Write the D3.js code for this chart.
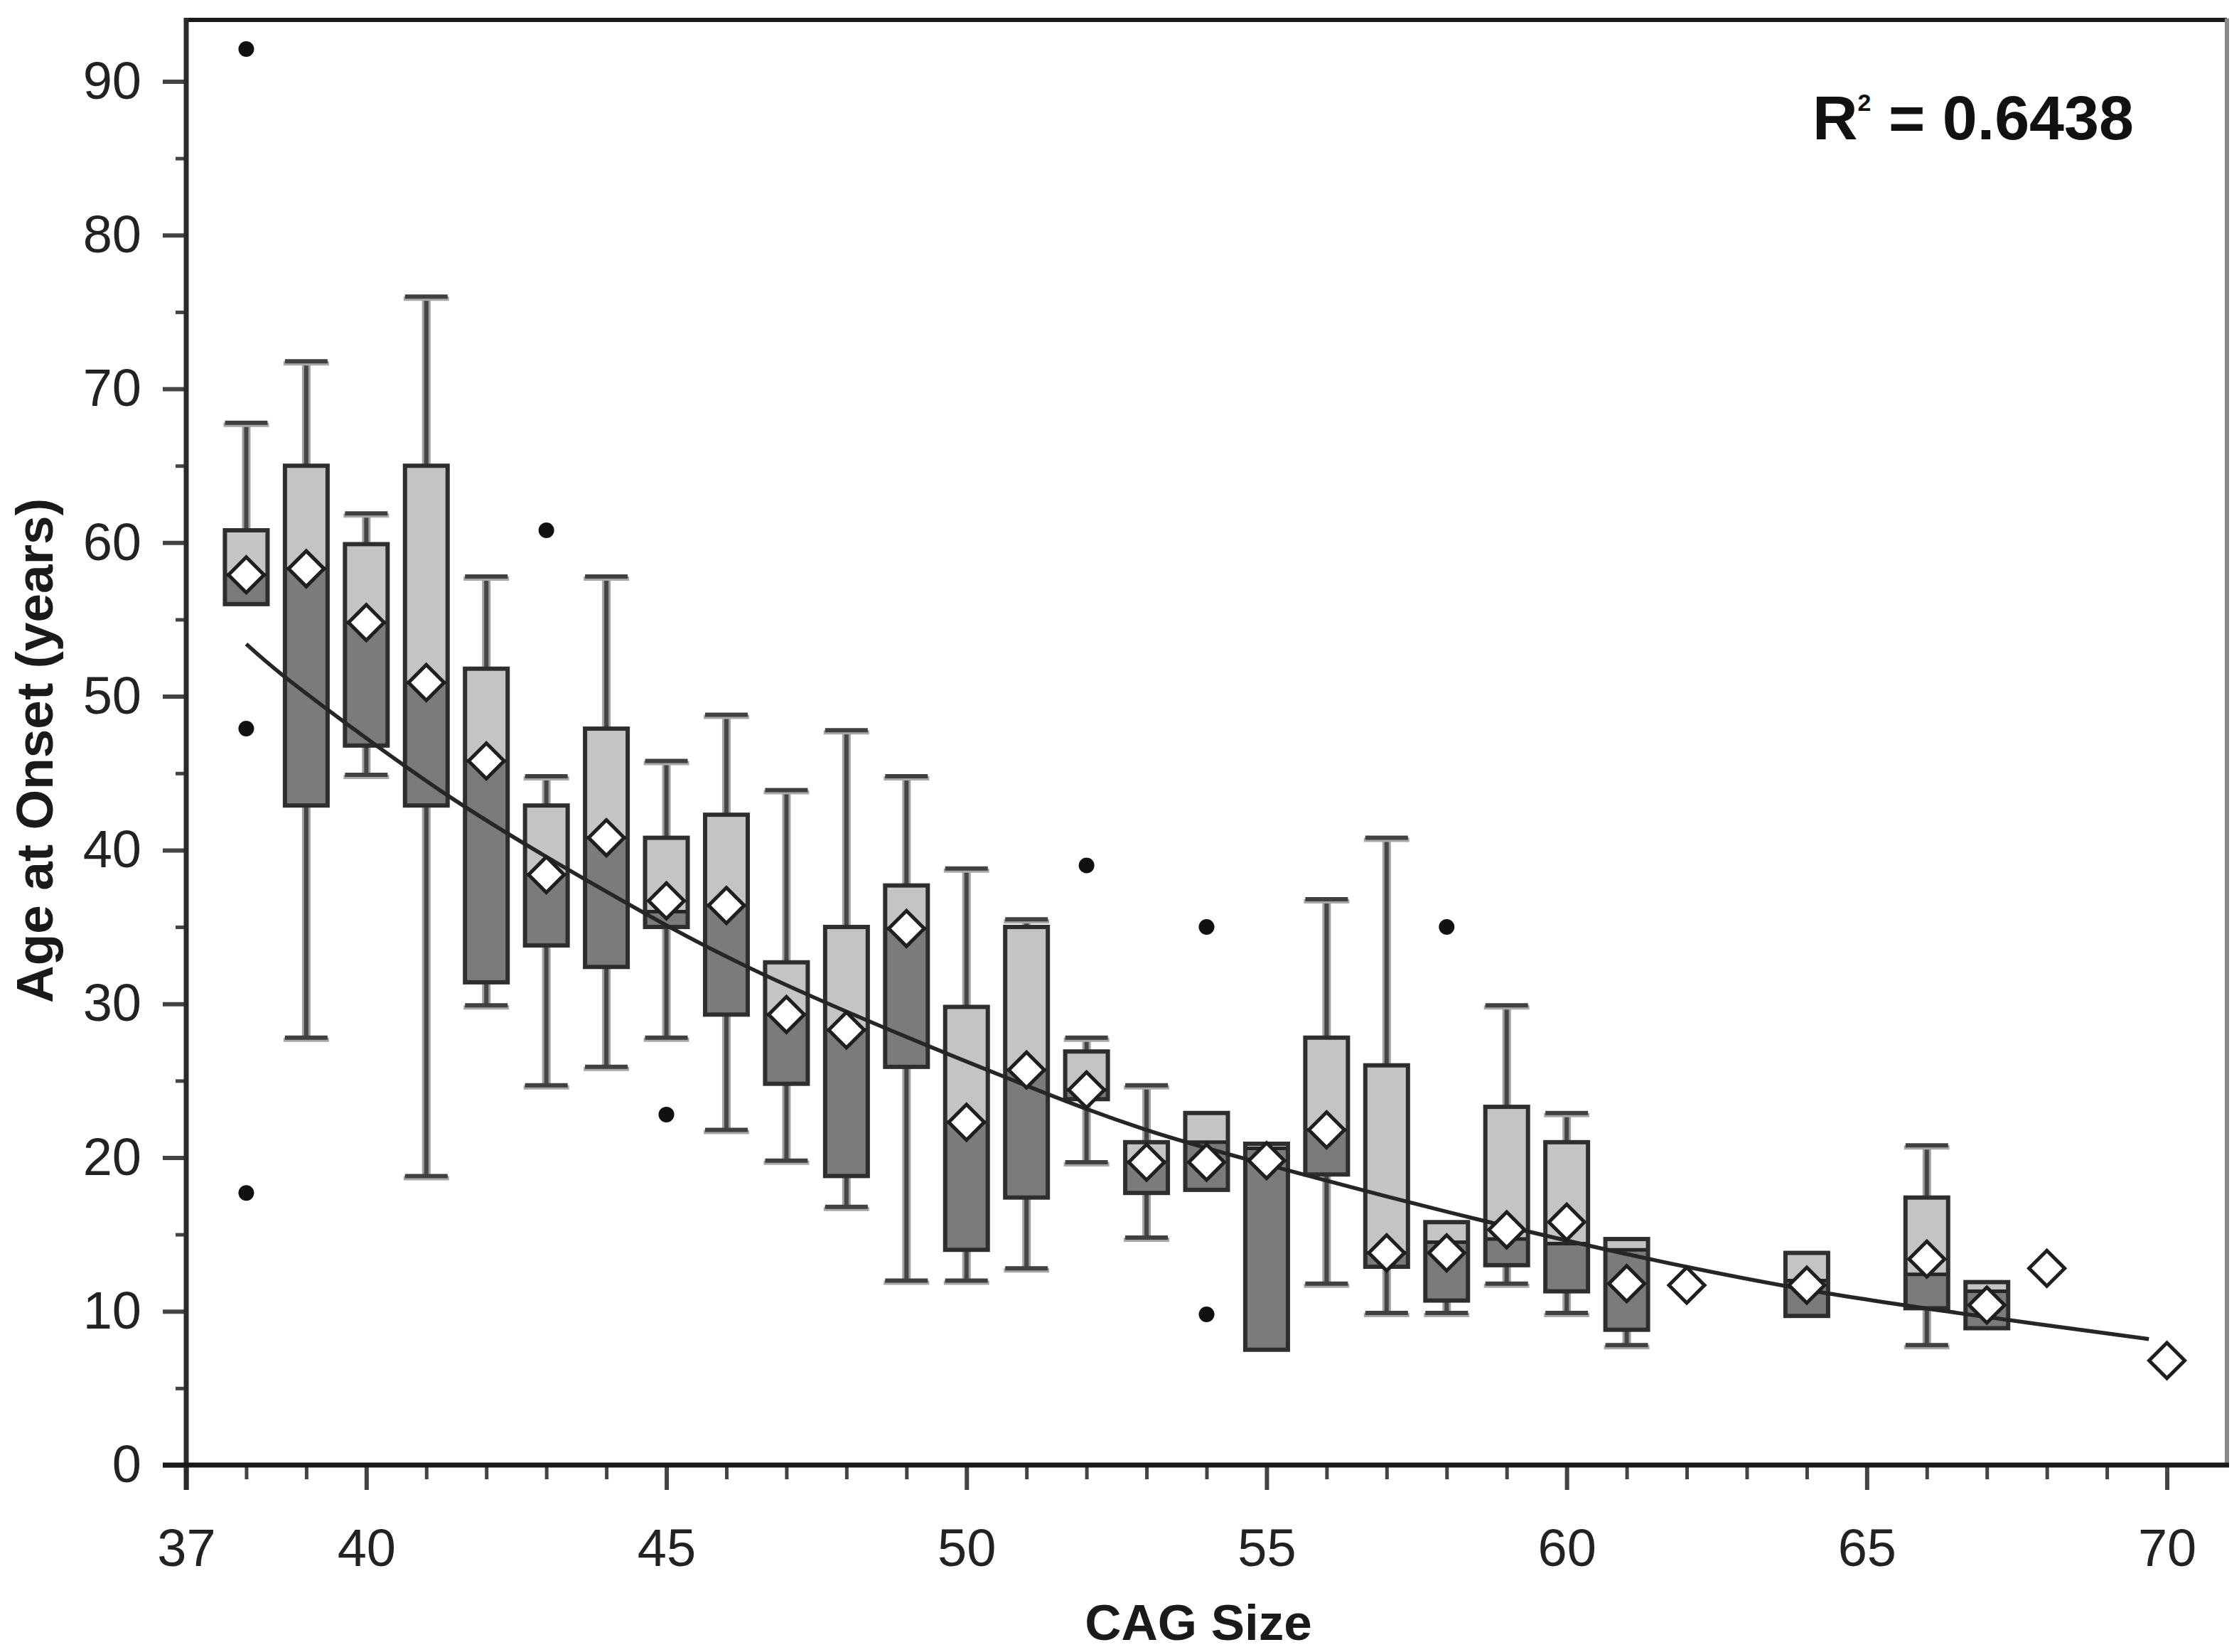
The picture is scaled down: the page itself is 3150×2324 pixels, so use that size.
<!DOCTYPE html>
<html lang="en">
<head>
<meta charset="UTF-8">
<title>Age at Onset vs CAG Size</title>
<script src="https://d3js.org/d3.v7.min.js"></script>
<style>
    body { margin: 0; background: #fff; }
    svg { display: block; font-family: "Liberation Sans", Arial, sans-serif; }
    .tick text { fill: #222; }
</style>
</head>
<body>
<svg id="chart" width="3150" height="2324"></svg>
<script>
    // values
    const cag        = [38, 39, 40, 41, 42, 43, 44, 45, 46, 47, 48, 49, 50, 51, 52, 53, 54, 55, 56, 57, 58, 59, 60, 61, 62, 64, 66, 67, 68, 70];
    const q1         = [56.0, 42.9, 46.8, 42.9, 31.4, 33.8, 32.4, 35.0, 29.3, 24.8, 18.8, 25.9, 14.0, 17.4, 23.8, 17.7, 17.9, 7.5, 18.9, 12.9, 10.7, 13.0, 11.3, 8.8, null, 9.7, 10.2, 8.9, null, null];
    const q3         = [60.8, 65.0, 59.9, 65.0, 51.8, 42.9, 47.9, 40.8, 42.3, 32.7, 35.0, 37.7, 29.8, 35.0, 26.9, 21.0, 22.9, 20.9, 27.8, 26.0, 15.8, 23.3, 21.0, 14.7, null, 13.8, 17.4, 11.9, null, null];
    const median     = [57.9, 58.3, 54.8, 50.9, 45.8, 38.4, 40.8, 36.0, 36.4, 29.3, 28.3, 34.9, 22.3, 25.7, 24.4, 19.7, 21.0, 20.6, 21.8, 13.8, 14.5, 14.7, 14.4, 14.0, null, 12.0, 12.4, 11.3, null, null];
    const mean       = [57.9, 58.3, 54.8, 50.9, 45.8, 38.4, 40.8, 36.7, 36.4, 29.3, 28.3, 34.9, 22.3, 25.7, 24.4, 19.7, 19.7, 19.8, 21.8, 13.8, 13.8, 15.3, 15.8, 11.8, 11.7, 11.7, 13.4, 10.4, 12.8, 6.8];
    const whiskerLow = [null, 27.8, 44.9, 18.8, 29.9, 24.7, 25.9, 27.8, 21.8, 19.8, 16.8, 12.0, 12.0, 12.8, 19.7, 14.8, null, null, 11.8, 9.9, 9.9, 11.8, 9.9, 7.8, null, null, 7.8, null, null, null];
    const whiskerHigh= [67.8, 71.8, 61.9, 76.0, 57.8, 44.8, 57.8, 45.8, 48.8, 43.9, 47.8, 44.8, 38.8, 35.5, 27.8, 24.7, null, null, 36.8, 40.8, null, 29.9, 22.9, null, null, null, 20.8, null, null, null];

    const outlierX = [38, 38, 38, 43, 45, 52, 54, 54, 58];
    const outlierY = [92.1, 47.9, 17.7, 60.8, 22.8, 39.0, 35.0, 9.8, 35.0];

    // fitted curve, points
    const fitX = [38, 38.6, 41.3, 43.6, 46.3, 50.6, 53, 56, 58.5, 61.5, 64, 66.5, 69.7];
    const fitY = [53.4, 51.4, 43.7, 38.2, 32.5, 25.3, 21.8, 18.5, 16.0, 13.3, 11.4, 9.9, 8.2];

    const yMajor = [0, 10, 20, 30, 40, 50, 60, 70, 80, 90];
    const yMinor = [5, 15, 25, 35, 45, 55, 65, 75, 85];
    const xMajor = [37, 40, 45, 50, 55, 60, 65, 70];
    const xMinor = d3.range(38, 71).filter(v => !xMajor.includes(v));

    const rSquared = "0.6438";

    const padL = 262, padT = 28, padR = 3133, padB = 2061;
    const svg = d3.select("#chart");

    const x = d3.scaleLinear().domain([37, 71]).range([padL, padR]);
    const y = d3.scaleLinear().domain([0, 94]).range([padB, padT]);

    const boxW = 60;
    const light = "#c4c4c4", dark = "#7b7b7b", edge = "#2e2e2e";

    const rows = cag.map((c, i) => ({
        c, q1: q1[i], q3: q3[i], med: median[i], mean: mean[i],
        lo: whiskerLow[i], hi: whiskerHigh[i]
    }));

    // whiskers
    function whisker(g, d, from, to) {
        if (to == null) return;
        g.append("line")
            .attr("x1", x(d.c)).attr("x2", x(d.c))
            .attr("y1", y(from)).attr("y2", y(to))
            .attr("stroke", "#a0a0a0").attr("stroke-width", 12);
        g.append("line")
            .attr("x1", x(d.c)).attr("x2", x(d.c))
            .attr("y1", y(from)).attr("y2", y(to))
            .attr("stroke", "#464646").attr("stroke-width", 6);
        g.append("line")
            .attr("x1", x(d.c) - boxW / 2 - 2).attr("x2", x(d.c) + boxW / 2 + 2)
            .attr("y1", y(to) + 3).attr("y2", y(to) + 3)
            .attr("stroke", "#a8a8a8").attr("stroke-width", 6);
        g.append("line")
            .attr("x1", x(d.c) - boxW / 2).attr("x2", x(d.c) + boxW / 2)
            .attr("y1", y(to)).attr("y2", y(to))
            .attr("stroke", "#404040").attr("stroke-width", 6);
    }

    const boxes = svg.append("g");
    rows.forEach(d => {
        const g = boxes.append("g");
        if (d.q1 != null) {
            whisker(g, d, d.q3, d.hi);
            whisker(g, d, d.q1, d.lo);
            g.append("rect")
                .attr("x", x(d.c) - boxW / 2).attr("width", boxW)
                .attr("y", y(d.q3)).attr("height", y(d.med) - y(d.q3))
                .attr("fill", light);
            g.append("rect")
                .attr("x", x(d.c) - boxW / 2).attr("width", boxW)
                .attr("y", y(d.med)).attr("height", y(d.q1) - y(d.med))
                .attr("fill", dark);
            g.append("line")
                .attr("x1", x(d.c) - boxW / 2).attr("x2", x(d.c) + boxW / 2)
                .attr("y1", y(d.med)).attr("y2", y(d.med))
                .attr("stroke", "#262626").attr("stroke-width", 5);
            g.append("rect")
                .attr("x", x(d.c) - boxW / 2).attr("width", boxW)
                .attr("y", y(d.q3)).attr("height", y(d.q1) - y(d.q3))
                .attr("fill", "none").attr("stroke", edge).attr("stroke-width", 6);
        }
    });

    // fit line
    svg.append("path")
        .datum(fitX.map((v, i) => [v, fitY[i]]))
        .attr("fill", "none")
        .attr("stroke", "#262626")
        .attr("stroke-width", 5.5)
        .attr("d", d3.line().x(d => x(d[0])).y(d => y(d[1])).curve(d3.curveCatmullRom));

    // mean diamonds
    const dsz = 25;
    svg.append("g").selectAll("path")
        .data(rows)
        .join("path")
        .attr("d", d => {
            const cx = x(d.c), cy = y(d.mean);
            return `M${cx},${cy - dsz}L${cx + dsz},${cy}L${cx},${cy + dsz}L${cx - dsz},${cy}Z`;
        })
        .attr("fill", "#fff")
        .attr("stroke", "#1e1e1e")
        .attr("stroke-width", 5);

    // outliers
    svg.append("g").selectAll("circle")
        .data(outlierX.map((v, i) => [v, outlierY[i]]))
        .join("circle")
        .attr("cx", d => x(d[0]))
        .attr("cy", d => y(d[1]))
        .attr("r", 11)
        .attr("fill", "#111");

    // frame
    svg.append("line")
        .attr("x1", padL).attr("x2", padR).attr("y1", padT).attr("y2", padT)
        .attr("stroke", "#1a1a1a").attr("stroke-width", 6);
    svg.append("line")
        .attr("x1", padR).attr("x2", padR).attr("y1", padT - 2).attr("y2", padB)
        .attr("stroke", "#8a8a8a").attr("stroke-width", 6);

    // y axis
    const yAxis = svg.append("g")
        .attr("transform", `translate(${padL},0)`)
        .call(d3.axisLeft(y).tickValues(yMajor).tickSize(33).tickPadding(30).tickSizeOuter(0))
        .call(g => g.select(".domain").remove());
    yAxis.selectAll(".tick line").attr("stroke", "#444").attr("stroke-width", 6);
    yAxis.selectAll(".tick text").attr("font-size", 74);
    svg.append("g")
        .attr("transform", `translate(${padL},0)`)
        .call(d3.axisLeft(y).tickValues(yMinor).tickSize(15).tickFormat(""))
        .call(g => g.select(".domain").remove())
        .selectAll(".tick line").attr("stroke", "#444").attr("stroke-width", 5);

    // x axis
    const xAxis = svg.append("g")
        .attr("transform", `translate(0,${padB})`)
        .call(d3.axisBottom(x).tickValues(xMajor).tickSize(35).tickPadding(54).tickSizeOuter(0))
        .call(g => g.select(".domain").remove());
    xAxis.selectAll(".tick line").attr("stroke", "#444").attr("stroke-width", 6);
    xAxis.selectAll(".tick text").attr("font-size", 74);
    svg.append("g")
        .attr("transform", `translate(0,${padB})`)
        .call(d3.axisBottom(x).tickValues(xMinor).tickSize(20).tickFormat(""))
        .call(g => g.select(".domain").remove())
        .selectAll(".tick line").attr("stroke", "#444").attr("stroke-width", 5);

    // axis lines
    svg.append("line")
        .attr("x1", padL).attr("x2", padL).attr("y1", padT - 3).attr("y2", padB + 35)
        .attr("stroke", "#2a2a2a").attr("stroke-width", 7);
    svg.append("line")
        .attr("x1", padL - 33).attr("x2", padR + 3).attr("y1", padB).attr("y2", padB)
        .attr("stroke", "#1a1a1a").attr("stroke-width", 7);

    // titles
    svg.append("text")
        .attr("transform", `translate(74,1056) rotate(-90)`)
        .attr("text-anchor", "middle")
        .attr("font-size", 73).attr("font-weight", "bold").attr("fill", "#1a1a1a")
        .text("Age at Onset (years)");

    svg.append("text")
        .attr("x", 1686).attr("y", 2307)
        .attr("text-anchor", "middle")
        .attr("font-size", 71).attr("font-weight", "bold").attr("fill", "#1a1a1a")
        .text("CAG Size");

    const r2 = svg.append("text")
        .attr("x", 2550).attr("y", 196)
        .attr("font-size", 88).attr("font-weight", "bold").attr("fill", "#111");
    r2.append("tspan").text("R");
    r2.append("tspan").attr("font-size", 34).attr("dy", -40).text("2");
    r2.append("tspan").attr("dy", 40).text(" = " + rSquared);
</script>
</body>
</html>
